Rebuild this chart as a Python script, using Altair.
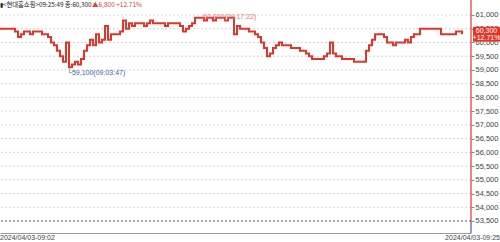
import altair as alt
import pandas as pd

# ---- data ----
prices = [
    60500, 60500, 60500, 60500, 60500, 60400, 60200, 60300, 60400, 60400,
    60300, 60400, 60400, 60400, 60300, 60300, 60200, 60000, 59900, 59700,
    59500, 59300, 60000, 59100, 59200, 59300, 59200, 59400, 59700, 59900,
    60100, 59900, 60300, 60000, 60100, 60600, 60100, 60300, 60300, 60300,
    60400, 60800, 60500, 60700, 60600, 60700, 60700, 60700, 60600, 60700,
    60800, 60700, 60700, 60700, 60700, 60600, 60700, 60700, 60700, 60700,
    60600, 60400, 60500, 60600, 60700, 60900, 60900, 60900, 60800, 60900,
    60900, 60800, 60900, 60900, 60900, 60800, 60900, 60900, 60300, 60600,
    60500, 60500, 60500, 60400, 60400, 60300, 60200, 60000, 59800, 59500,
    59600, 59800, 59900, 60000, 59900, 59900, 59900, 59800, 59800, 59800,
    59700, 59700, 59600, 59500, 59400, 59400, 59400, 59400, 59500, 59600,
    60000, 59600, 59500, 59500, 59400, 59400, 59400, 59400, 59300, 59300,
    59300, 59300, 59700, 59900, 60100, 60300, 60300, 60300, 60200, 60000,
    60000, 59900, 60000, 60000, 60000, 60100, 60000, 60200, 60300, 60300,
    60500, 60500, 60500, 60500, 60500, 60500, 60500, 60300, 60300, 60300,
    60300, 60300, 60400, 60400, 60300,
]
tick_values = [53500, 54000, 54500, 55000, 55500, 56000, 56500, 57000,
               57500, 58000, 58500, 59000, 59500, 60000, 60500, 61000]
prev_close = 53500
last_price = 60300
start_label = "2024/04/03-09:02"
end_label = "2024/04/03-09:25"
header_black = "▮<현대홈쇼핑>09:25:49 종:60,300"
header_red = "▲6,800 +12.71%"
last_label = "60,300"
pct_label = "+12.71%"
min_label = "└59,100(09:03:47)"
max_label = "60,900(09:17:22)"

RED = "#e3342a"
BLUE = "#3b64a8"

df = pd.DataFrame({"i": list(range(len(prices))), "p": prices})
xs = alt.Scale(domain=[0, 157], nice=False, zero=False)
ys = alt.Scale(domain=[53063, 61546], nice=False, zero=False)

yaxis = alt.Axis(
    orient="right", values=tick_values, labelExpr="format(datum.value, ',')",
    grid=False, domain=False, title=None, tickSize=3, tickColor="#888888",
    labelFontSize=7.5, labelColor="#444444", labelFont="Liberation Sans",
    labelPadding=1, zindex=0)
xaxis = alt.Axis(labels=False, ticks=False, grid=False, title=None,
                 domainColor="#999999", zindex=0)


def Y(field):
    return alt.Y(field, type="quantitative", scale=ys, axis=yaxis)


def X(field):
    return alt.X(field, type="quantitative", scale=xs, axis=xaxis)


grid = alt.Chart(pd.DataFrame({"p": tick_values[1:]})).mark_rule(
    color="#d4d4d4", strokeDash=[2, 2], strokeWidth=1
).encode(y=Y("p"))

prev = alt.Chart(pd.DataFrame({"p": [prev_close]})).mark_rule(
    color="#555555", strokeDash=[2, 2], strokeWidth=1
).encode(y=Y("p"))

line = alt.Chart(df).mark_line(
    interpolate="step-after", color=RED, strokeWidth=2
).encode(x=X("i"), y=Y("p"))

axis_red = alt.Chart(pd.DataFrame({"p": [prev_close], "p2": [61546]})).mark_rule(
    color=RED, strokeWidth=1.2
).encode(x=alt.value(471), y=Y("p"), y2="p2")
axis_blue = alt.Chart(pd.DataFrame({"p": [53063], "p2": [prev_close]})).mark_rule(
    color=BLUE, strokeWidth=1.2
).encode(x=alt.value(471), y=Y("p"), y2="p2")

imin = prices.index(min(prices))
imax = prices.index(max(prices))
min_txt = alt.Chart(pd.DataFrame({"i": [imin], "p": [min(prices)], "t": [min_label]})).mark_text(
    align="left", baseline="middle", dx=-2, dy=6, fontSize=7, color=BLUE, font="Liberation Sans"
).encode(x=X("i"), y=Y("p"), text="t:N")
max_txt = alt.Chart(pd.DataFrame({"i": [imax], "p": [max(prices)], "t": [max_label]})).mark_text(
    align="left", baseline="middle", dx=8, dy=-1, fontSize=7, color="#e87a70", font="Liberation Sans"
).encode(x=X("i"), y=Y("p"), text="t:N")

box = alt.Chart(pd.DataFrame({"p": [last_price]})).mark_point(
    shape="M-1,-0.55L1,-0.55L1,0.55L-1,0.55Z", filled=True, opacity=1, color=RED, size=729
).encode(x=alt.value(486.5), y=Y("p"))
box_t1 = alt.Chart(pd.DataFrame({"p": [last_price], "t": [last_label]})).mark_text(
    align="center", baseline="middle", dy=-3.5, fontSize=7, color="white", font="Liberation Sans"
).encode(x=alt.value(486.5), y=Y("p"), text="t:N")
box_t2 = alt.Chart(pd.DataFrame({"p": [last_price], "t": [pct_label]})).mark_text(
    align="center", baseline="middle", dy=3.5, fontSize=7, color="white", font="Liberation Sans"
).encode(x=alt.value(486.5), y=Y("p"), text="t:N")

hdr1 = alt.Chart(pd.DataFrame({"t": [header_black]})).mark_text(
    align="left", baseline="middle", fontSize=6.3, color="#222222", font="Noto Sans CJK KR"
).encode(x=alt.value(0), y=alt.value(5), text="t:N")
hdr2 = alt.Chart(pd.DataFrame({"t": [header_red]})).mark_text(
    align="left", baseline="middle", fontSize=6.5, color="#d9443a", font="Noto Sans CJK KR"
).encode(x=alt.value(92), y=alt.value(5), text="t:N")

d1 = alt.Chart(pd.DataFrame({"t": [start_label]})).mark_text(
    align="left", baseline="middle", fontSize=7, color="#444444", font="Liberation Sans"
).encode(x=alt.value(0), y=alt.value(238), text="t:N")
d2 = alt.Chart(pd.DataFrame({"t": [end_label]})).mark_text(
    align="right", baseline="middle", fontSize=7, color="#444444", font="Liberation Sans"
).encode(x=alt.value(500), y=alt.value(238), text="t:N")

chart = alt.layer(
    grid, prev, line, axis_red, axis_blue, min_txt, max_txt, box, box_t1, box_t2,
    hdr1, hdr2, d1, d2
).properties(
    width=471, height=233,
    autosize=alt.AutoSizeParams(type="none"),
    padding={"left": 0, "right": 29, "top": 0, "bottom": 9},
    background="white",
).configure_view(stroke=None)

chart.save("out.html", embed_options={"renderer": "svg", "actions": False})
